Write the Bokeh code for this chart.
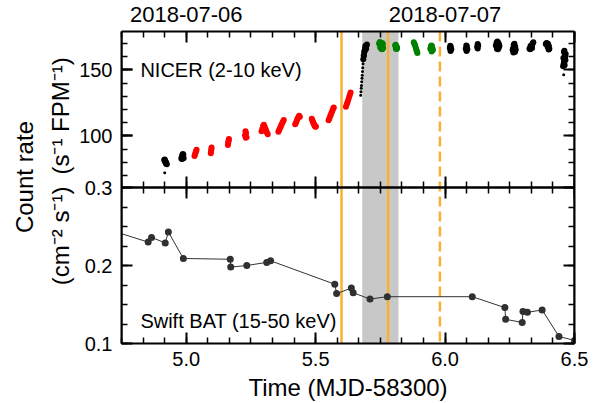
import numpy as np
from bokeh.plotting import figure
from bokeh.layouts import row
from bokeh.models import Range1d, LinearAxis, FixedTicker, BoxAnnotation, Span, Label
from bokeh.embed import file_html
from bokeh.resources import INLINE

# ---------------- data (time in MJD-58300) ----------------
# NICER 2-10 keV count rate (s^-1 FPM^-1), black points (dense orbit clumps)
nicer_black_t = [4.915, 4.917, 4.919, 4.921, 4.923, 4.925, 4.918, 4.922,
                 4.981, 4.983, 4.985, 4.987, 4.989, 4.984, 4.986, 4.988, 4.990,
                 5.684, 5.686, 5.688, 5.690, 5.692, 5.694, 5.696, 5.698, 5.686, 5.689, 5.692, 5.695,
                 6.018, 6.020, 6.022, 6.024, 6.021,
                 6.080, 6.082, 6.084, 6.086, 6.083,
                 6.124, 6.126, 6.128, 6.126,
                 6.196, 6.199, 6.202, 6.205, 6.208, 6.210, 6.200, 6.204, 6.207,
                 6.262, 6.265, 6.268, 6.271, 6.267, 6.264, 6.270, 6.261, 6.273,
                 6.326, 6.329, 6.332, 6.335, 6.338, 6.341, 6.330, 6.336,
                 6.389, 6.392, 6.395, 6.398, 6.401, 6.403, 6.396, 6.400,
                 6.456, 6.458, 6.460, 6.462, 6.464, 6.466, 6.459, 6.461, 6.463, 6.465,
                 6.457, 6.460, 6.462]
nicer_black_r = [81.8, 82.2, 81.0, 80.2, 79.5, 78.6, 80.5, 79.0,
                 83.0, 84.2, 85.5, 86.3, 85.8, 82.5, 83.5, 84.5, 83.2,
                 158.0, 161.0, 163.5, 165.2, 166.5, 167.8, 168.5, 169.2, 160.5, 164.0, 168.0, 166.0,
                 166.5, 168.2, 167.5, 165.5, 164.2,
                 166.0, 168.5, 167.8, 165.5, 164.3,
                 167.5, 169.5, 168.5, 166.2,
                 168.5, 170.5, 171.5, 170.5, 169.5, 168.0, 166.0, 165.6, 166.5,
                 166.0, 169.0, 169.8, 167.5, 164.5, 163.2, 163.5, 165.0, 165.2,
                 166.0, 165.5, 167.0, 168.5, 170.0, 170.8, 168.0, 166.5,
                 169.5, 170.3, 170.0, 169.5, 168.0, 166.0, 167.5, 165.3,
                 152.8, 154.5, 156.5, 158.0, 160.0, 162.0, 163.5, 164.5, 161.0, 157.5,
                 159.0, 155.0, 153.5]

# NICER black points, sparse (fast rise and isolated points)
nicer_sparse_t = [4.917, 5.674, 5.675, 5.676, 5.677, 5.678, 5.679, 5.680, 5.681, 5.682,
                  5.683, 6.458]
nicer_sparse_r = [72.2, 130.8, 133.5, 136.0, 138.2, 141.0, 143.6, 146.0, 148.8, 151.5,
                  154.6, 146.2]

# NICER red points
nicer_red_t = [5.032, 5.034, 5.036, 5.038, 5.040,
               5.095, 5.096, 5.097, 5.098,
               5.161, 5.162, 5.163, 5.164, 5.165,
               5.227, 5.229, 5.231, 5.233, 5.230,
               5.291, 5.294, 5.297, 5.300, 5.303, 5.306, 5.309, 5.312, 5.315,
               5.356, 5.359, 5.362, 5.365, 5.368, 5.371, 5.374, 5.377,
               5.421, 5.424, 5.427, 5.430, 5.433, 5.436, 5.439,
               5.485, 5.487, 5.489, 5.491, 5.493, 5.495, 5.497, 5.499, 5.501,
               5.550, 5.553, 5.556, 5.559, 5.562, 5.565, 5.568, 5.570,
               5.617, 5.620, 5.623, 5.626, 5.629, 5.632, 5.635]
nicer_red_r = [84.8, 86.0, 87.3, 88.5, 89.5,
               87.0, 88.5, 90.0, 91.3,
               93.2, 94.5, 95.8, 96.8, 97.6,
               100.5, 103.5, 102.0, 99.0, 98.6,
               103.5, 105.5, 107.5, 108.5, 107.0, 105.5, 104.0, 102.5, 101.2,
               103.2, 104.5, 105.8, 107.0, 108.5, 109.8, 111.0, 112.0,
               108.8, 110.0, 111.5, 113.0, 114.2, 115.2, 114.5,
               113.0, 112.0, 111.0, 110.0, 109.0, 108.2, 107.5, 107.0, 107.2,
               111.8, 113.2, 114.8, 116.3, 117.8, 119.3, 120.7, 121.5,
               122.0, 123.8, 125.5, 127.3, 129.2, 131.0, 132.8]

# NICER green points
nicer_green_t = [5.745, 5.748, 5.751, 5.754, 5.757, 5.760, 5.749, 5.753, 5.757, 5.761,
                 5.807, 5.809, 5.811, 5.813, 5.815, 5.810, 5.813,
                 5.879, 5.881, 5.883, 5.885, 5.887, 5.889, 5.891, 5.893,
                 5.943, 5.945, 5.947, 5.949, 5.951, 5.953, 5.948]
nicer_green_r = [170.0, 171.0, 170.5, 169.8, 170.3, 169.5, 167.0, 166.0, 165.5, 166.5,
                 168.5, 169.0, 168.0, 167.5, 166.5, 166.0, 165.8,
                 170.8, 170.0, 169.0, 168.0, 166.5, 165.2, 164.0, 162.8,
                 166.0, 167.5, 168.5, 168.0, 166.5, 165.0, 163.8]

# Swift BAT 15-50 keV rate (cm^-2 s^-1)
bat_t = [4.700, 4.853, 4.866, 4.919, 4.931, 4.989, 5.170, 5.172, 5.234, 5.311, 5.326,
         5.574, 5.581, 5.638, 5.645, 5.710, 5.777, 6.105, 6.231, 6.234, 6.298,
         6.301, 6.318, 6.375, 6.440, 6.500]
bat_r = [0.246, 0.230, 0.236, 0.229, 0.243, 0.209, 0.208, 0.198, 0.200, 0.204, 0.206,
         0.176, 0.164, 0.171, 0.165, 0.157, 0.160, 0.160, 0.146, 0.131, 0.127,
         0.141, 0.140, 0.143, 0.109, 0.104]

# marked epochs
band_start, band_end = 5.68, 5.82
solid_lines = [5.60, 5.78]
dashed_lines = [5.98]

# ticks and labels
x_ticks = [5.0, 5.5, 6.0, 6.5]
x_tick_labels = ["5.0", "5.5", "6.0", "6.5"]
date_labels = {5.0: "2018-07-06", 6.0: "2018-07-07"}
nicer_ticks = [100, 150]
nicer_tick_labels = ["100", "150"]
nicer_minor = [70, 80, 90, 100, 110, 120, 130, 140, 150, 160, 170]
bat_ticks = [0.1, 0.2, 0.3]
bat_tick_labels = ["0.1", "0.2", "0.3"]
bat_minor = [0.1, 0.125, 0.15, 0.175, 0.2, 0.225, 0.25, 0.275, 0.3]

FONT = "Liberation Sans"
ORANGE = "#F9B134"

x_minor = [k / 12 for k in range(57, 79)]

# panel ranges: BAT occupies lower half of frame, NICER the upper half
BAT_LO, BAT_HI = 0.1, 0.5
NIC_LO, NIC_HI = -57.0, 179.0


def nicer_to_bat(v):
    return BAT_LO + (v - NIC_LO) / (NIC_HI - NIC_LO) * (BAT_HI - BAT_LO)


p = figure(width=526, height=403, output_backend="svg", toolbar_location=None,
           x_range=Range1d(4.75, 6.5), y_range=Range1d(BAT_LO, BAT_HI),
           min_border_left=43, min_border_right=28, min_border_top=31,
           min_border_bottom=58)
p.extra_y_ranges = {"nicer": Range1d(NIC_LO, NIC_HI)}
p.xgrid.visible = False
p.ygrid.visible = False
p.outline_line_color = None
p.background_fill_color = "white"
p.border_fill_color = "white"


def style(ax, fs="20px"):
    ax.axis_line_width = 2
    ax.axis_line_color = "black"
    ax.major_tick_in = 11
    ax.major_tick_out = 0
    ax.minor_tick_in = 6
    ax.minor_tick_out = 0
    ax.major_tick_line_width = 2
    ax.minor_tick_line_width = 1.5
    ax.major_tick_line_color = "black"
    ax.minor_tick_line_color = "black"
    ax.major_label_text_font = FONT
    ax.major_label_text_font_size = fs
    ax.major_label_text_color = "black"


blank_x = {t: "" for t in x_ticks}
blank_b = {t: "" for t in bat_ticks}
blank_n = {t: "" for t in nicer_ticks}

# bottom axis
xb = p.xaxis[0]
xb.ticker = FixedTicker(ticks=x_ticks, minor_ticks=x_minor)
xb.major_label_overrides = dict(zip(x_ticks, x_tick_labels))
style(xb)
xb.major_label_standoff = 8
xb.axis_label = "Time (MJD-58300)"
xb.axis_label_text_font = FONT
xb.axis_label_text_font_size = "24px"
xb.axis_label_text_font_style = "normal"
xb.axis_label_text_color = "black"
xb.axis_label_standoff = 5

# top axis (dates)
xt = LinearAxis(ticker=FixedTicker(ticks=x_ticks, minor_ticks=x_minor),
                major_label_overrides={t: date_labels.get(t, "") for t in x_ticks})
style(xt, "22px")
xt.major_label_standoff = 10
p.add_layout(xt, "above")

# middle divider axes (between panels)
for side in ("below", "above"):
    xm = LinearAxis(ticker=FixedTicker(ticks=x_ticks, minor_ticks=x_minor),
                    fixed_location=0.3, major_label_overrides=blank_x)
    style(xm, "1px")
    xm.major_label_standoff = 0
    p.add_layout(xm, side)

# left axis: BAT ticks + NICER major ticks placed through the NICER range
nic_pos = [nicer_to_bat(v) for v in nicer_ticks]
yl = p.yaxis[0]
yl.ticker = FixedTicker(ticks=bat_ticks + nic_pos, minor_ticks=bat_minor)
yl.major_label_overrides = dict(zip(bat_ticks + nic_pos, bat_tick_labels + nicer_tick_labels))
style(yl)
yl.major_label_standoff = 9

yn = LinearAxis(y_range_name="nicer", fixed_location=4.75,
                ticker=FixedTicker(ticks=nicer_ticks, minor_ticks=nicer_minor),
                major_label_overrides=blank_n)
style(yn, "1px")
yn.major_label_standoff = 0
p.add_layout(yn, "left")

# right axes
yr = LinearAxis(ticker=FixedTicker(ticks=bat_ticks, minor_ticks=bat_minor),
                major_label_overrides=blank_b)
style(yr, "1px")
yr.major_label_standoff = 0
p.add_layout(yr, "right")
ynr = LinearAxis(y_range_name="nicer", fixed_location=6.5,
                 ticker=FixedTicker(ticks=nicer_ticks, minor_ticks=nicer_minor),
                 major_label_overrides=blank_n)
style(ynr, "1px")
ynr.major_label_standoff = 0
p.add_layout(ynr, "right")

# shaded band and epoch lines
p.add_layout(BoxAnnotation(left=band_start, right=band_end, fill_color="#c8c8c8",
                           fill_alpha=1.0, line_color=None, level="underlay"))
for loc in solid_lines:
    p.add_layout(Span(location=loc, dimension="height", line_color=ORANGE,
                      line_width=2.5, level="underlay"))
for loc in dashed_lines:
    p.add_layout(Span(location=loc, dimension="height", line_color=ORANGE,
                      line_width=2.5, line_dash="10 5", level="underlay"))

# NICER
p.scatter(nicer_black_t, nicer_black_r, y_range_name="nicer", size=6,
          fill_color="black", line_color=None)
p.scatter(nicer_sparse_t, nicer_sparse_r, y_range_name="nicer", size=3,
          fill_color="black", line_color=None)
p.scatter(nicer_red_t, nicer_red_r, y_range_name="nicer", size=6,
          fill_color="#ff0000", line_color=None)
p.scatter(nicer_green_t, nicer_green_r, y_range_name="nicer", size=6,
          fill_color="#008000", line_color=None)

# Swift BAT
p.line(bat_t, bat_r, line_color="#333333", line_width=1)
p.scatter(bat_t, bat_r, size=7, fill_color="#303030", line_color=None)

# in-panel texts
p.add_layout(Label(x=4.823, y=149.6, y_range_name="nicer", text="NICER (2-10 keV)",
                   text_font=FONT, text_font_size="20px", text_color="black",
                   text_baseline="alphabetic", text_align="left"))
p.add_layout(Label(x=4.823, y=0.1283, text="Swift BAT (15-50 keV)",
                   text_font=FONT, text_font_size="20px", text_color="black",
                   text_baseline="alphabetic", text_align="left"))

# y-axis titles in a narrow strip to the left
lab = figure(width=76, height=403, output_backend="svg", toolbar_location=None,
             x_range=Range1d(0, 76), y_range=Range1d(0, 403),
             x_axis_location=None, y_axis_location=None,
             min_border_left=0, min_border_right=0, min_border_top=0, min_border_bottom=0)
lab.xgrid.visible = False
lab.ygrid.visible = False
lab.outline_line_color = None
lab.background_fill_color = "white"
lab.border_fill_color = "white"
lab.add_layout(Label(x=24, y=403 - 188, text="Count rate", angle=np.pi / 2,
                     text_font=FONT, text_font_size="24px", text_color="black",
                     text_align="center", text_baseline="middle"))
lab.add_layout(Label(x=60, y=403 - 109, text="(s⁻¹ FPM⁻¹)", angle=np.pi / 2,
                     text_font=FONT, text_font_size="24px", text_color="black",
                     text_align="center", text_baseline="middle"))
lab.add_layout(Label(x=60, y=403 - 264, text="(cm⁻² s⁻¹)", angle=np.pi / 2,
                     text_font=FONT, text_font_size="24px", text_color="black",
                     text_align="center", text_baseline="middle"))

layout = row(lab, p)
open("out.html", "w").write(file_html(layout, INLINE))
